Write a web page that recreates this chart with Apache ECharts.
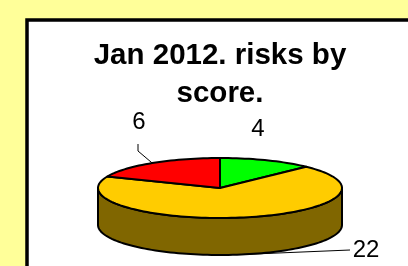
<!DOCTYPE html>
<html><head><meta charset="utf-8">
<script src="https://cdn.jsdelivr.net/npm/echarts@6/dist/echarts.min.js"></script>
<style>html,body{margin:0;padding:0;background:#FFFF99;overflow:hidden}#c{width:408px;height:266px}</style>
</head><body><div id="c"></div>
<script>
const categories = ['Score A', 'Score B', 'Score C'];
const values = [4, 22, 6];
const sliceColors = ['#00FF00', '#FFCC00', '#FF0000'];
const sideColors = ['#008000', '#806600', '#800000'];
const titleLines = ['Jan 2012. risks by', 'score.'];

const FONT = '"Liberation Sans", Arial, sans-serif';
const CX = 220, CY = 188, RX = 122, RY = 30, DEPTH = 37;
// label layout (positions of annotation text)
const labelPos = [[258, 129], [366, 250], [139, 122]];

const total = values.reduce((a, b) => a + b, 0);
const starts = [];
let acc = 0;
values.forEach(v => { starts.push(acc / total * 360); acc += v; });

function pt(deg, dy) {
  const r = deg * Math.PI / 180;
  return [CX + RX * Math.sin(r), CY - RY * Math.cos(r) + (dy || 0)];
}
function arc(a0, a1, dy) {
  const pts = [];
  const n = Math.max(2, Math.ceil(Math.abs(a1 - a0) / 2));
  for (let i = 0; i <= n; i++) pts.push(pt(a0 + (a1 - a0) * i / n, dy));
  return pts;
}

const chart = echarts.init(document.getElementById('c'), null, { renderer: 'canvas' });
const data = values.map((v, i) => ({ name: categories[i], value: [i, v] }));

chart.setOption({
  backgroundColor: '#FFFF99',
  animation: false,
  graphic: [
    { type: 'rect', z: -10, shape: { x: 27, y: 20, width: 420, height: 300 },
      style: { fill: '#FFFFFF', stroke: '#000000', lineWidth: 3.5 } },
    { type: 'text', z: 10, x: 220, y: 56, style: { text: titleLines[0], fill: '#000', font: 'bold 29.5px ' + FONT, align: 'center', verticalAlign: 'middle' } },
    { type: 'text', z: 10, x: 220, y: 94, style: { text: titleLines[1], fill: '#000', font: 'bold 29.5px ' + FONT, align: 'center', verticalAlign: 'middle' } }
  ],
  series: [
    {
      type: 'custom', coordinateSystem: 'none', z: 2, data: data,
      renderItem: function (params, api) {
        const i = params.dataIndex;
        const v = api.value(1);
        const s = starts[i], e = s + v / total * 360;
        const a0 = Math.max(s, 90), a1 = Math.min(e, 270);
        if (a0 >= a1) return { type: 'group', children: [] };
        const pts = arc(a0, a1, 0).concat(arc(a1, a0, DEPTH));
        return { type: 'polygon', shape: { points: pts },
          style: { fill: sideColors[i], stroke: '#000', lineWidth: 2, lineJoin: 'round' } };
      }
    },
    {
      type: 'custom', coordinateSystem: 'none', z: 3, data: data,
      renderItem: function (params, api) {
        const i = params.dataIndex;
        const v = api.value(1);
        const s = starts[i], e = s + v / total * 360;
        const pts = [[CX, CY]].concat(arc(s, e, 0));
        return { type: 'polygon', shape: { points: pts },
          style: { fill: sliceColors[i], stroke: '#000', lineWidth: 2, lineJoin: 'round' } };
      }
    },
    {
      type: 'custom', coordinateSystem: 'none', z: 4, data: data,
      renderItem: function (params, api) {
        const i = params.dataIndex;
        const v = api.value(1);
        const s = starts[i], mid = s + v / total * 180;
        const lp = labelPos[i];
        const children = [{
          type: 'text', x: lp[0], y: lp[1],
          style: { text: String(v), fill: '#000', font: '24px ' + FONT, align: 'center', verticalAlign: 'middle' }
        }];
        if (i === 2) {
          const a = pt(mid, 0);
          children.push({ type: 'polyline', shape: { points: [a, [lp[0] - 1, 151], [lp[0] - 1, 144]] },
            style: { stroke: '#000', lineWidth: 1, fill: null } });
        } else if (i === 1) {
          const a = pt(mid, DEPTH);
          children.push({ type: 'polyline', shape: { points: [a, [lp[0] - 16, lp[1]]] },
            style: { stroke: '#000', lineWidth: 1, fill: null } });
        }
        return { type: 'group', children: children };
      }
    }
  ]
});
</script>
</body></html>
